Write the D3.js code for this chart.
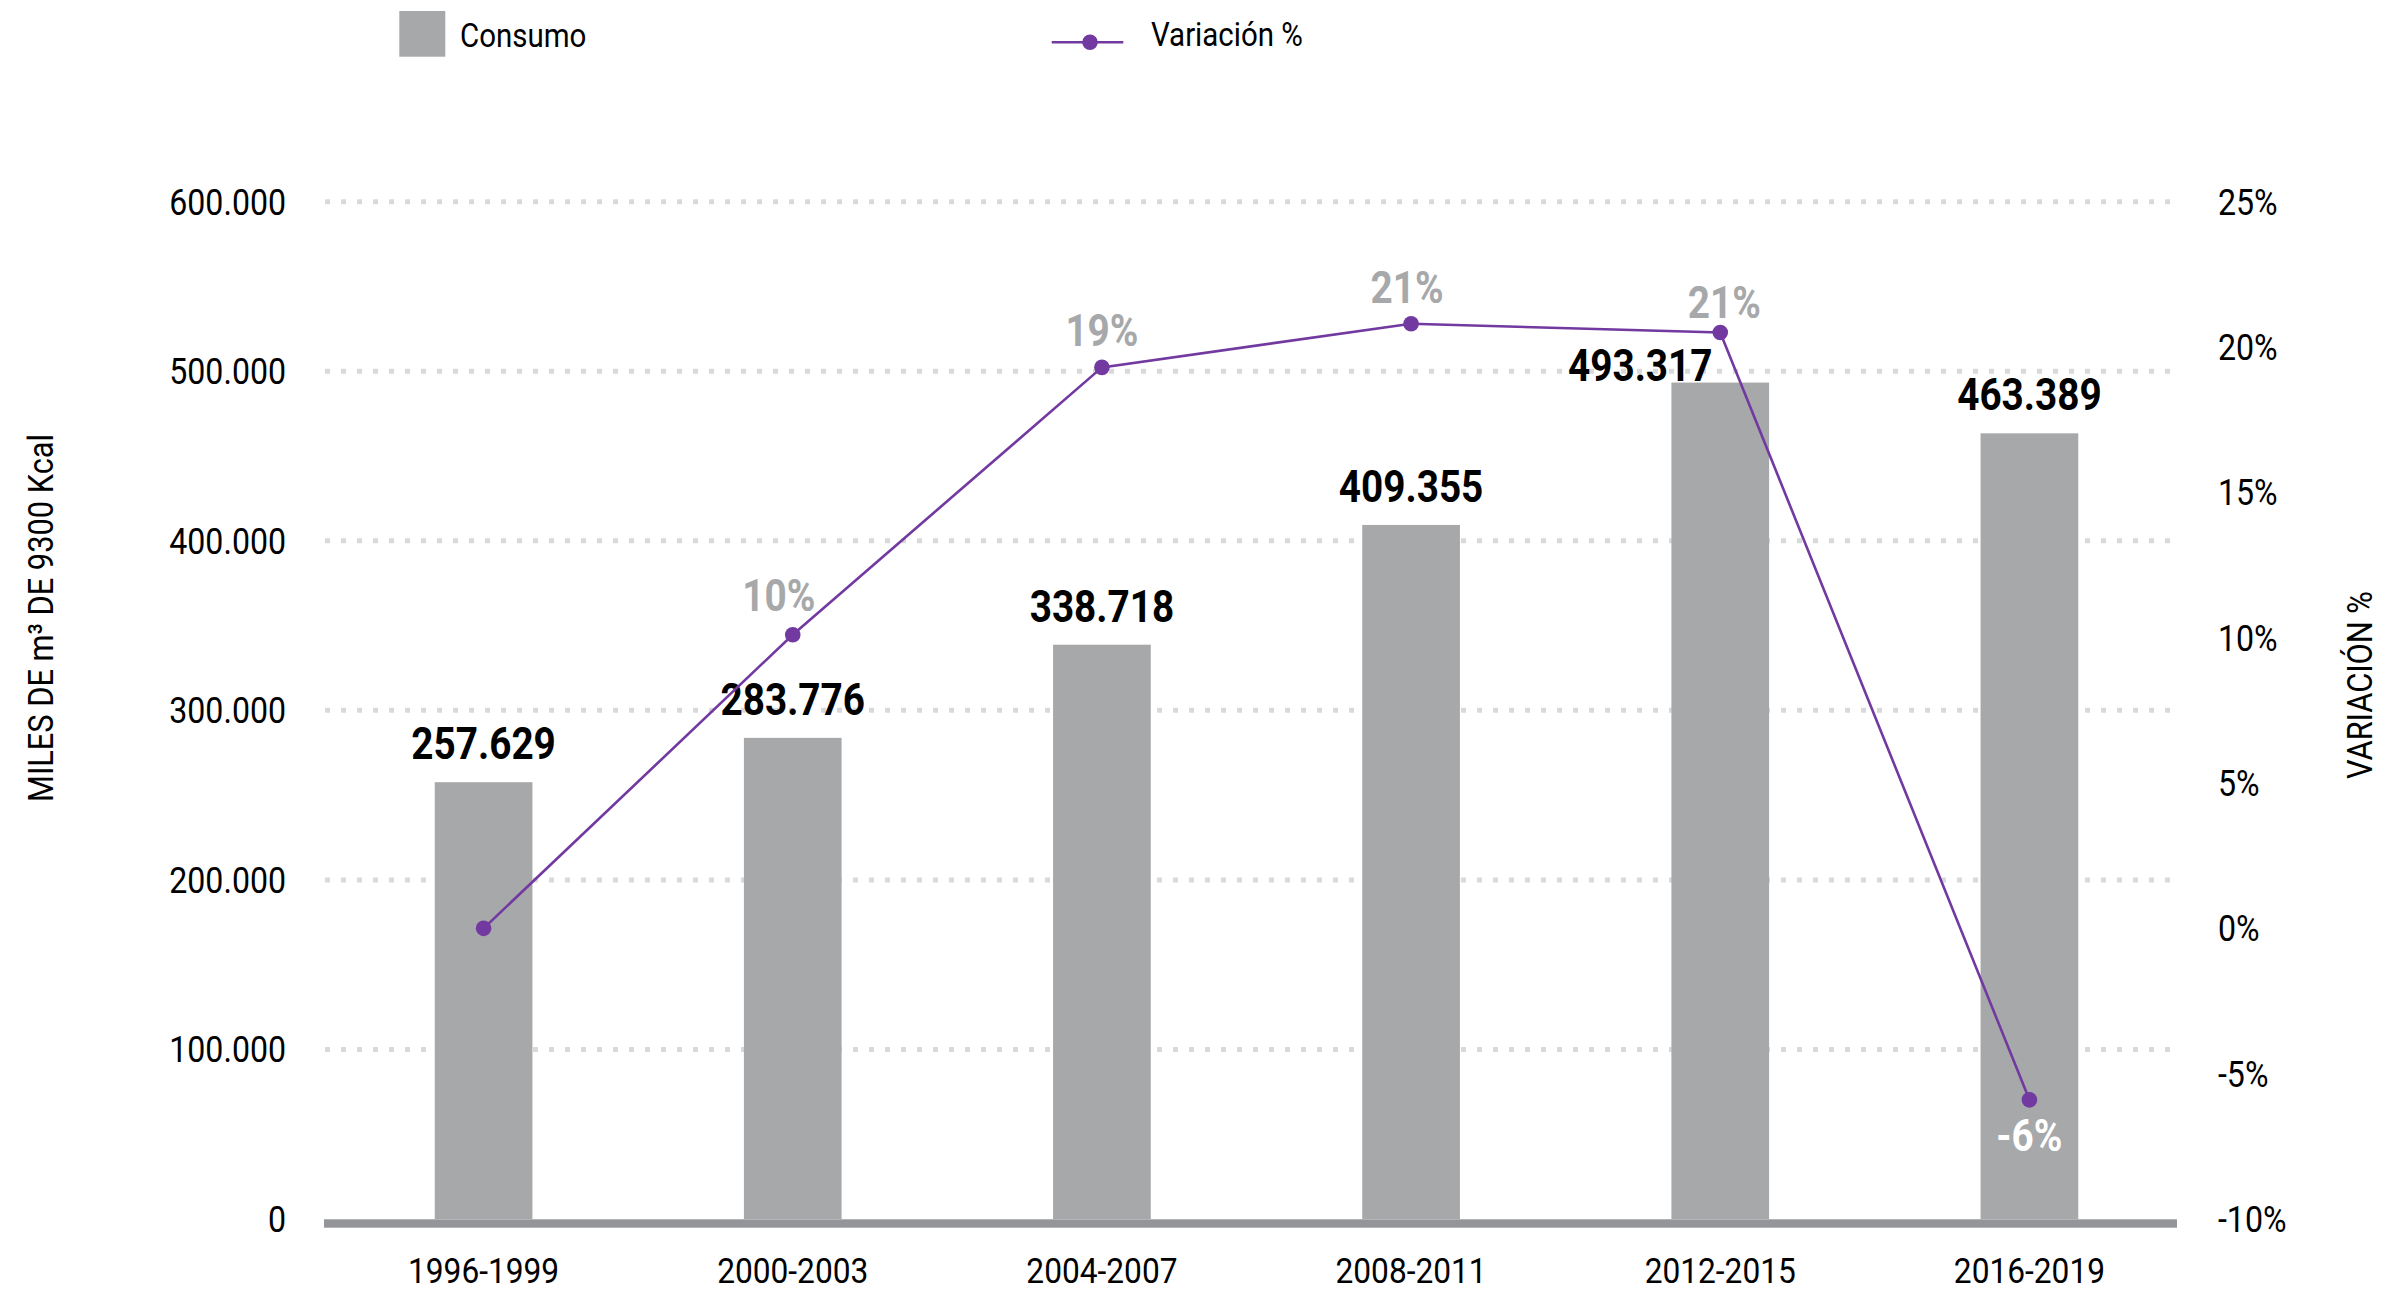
<!DOCTYPE html>
<html>
<head>
<meta charset="utf-8">
<script src="https://cdn.jsdelivr.net/npm/d3@7"></script>
<style>
  html, body { margin: 0; padding: 0; background: #ffffff; }
  svg { display: block; }
  text { font-family: Roboto, "Noto Sans", sans-serif; }
</style>
</head>
<body>
<svg id="chart" width="2408" height="1291"></svg>
<script>
// ---------- DATA ----------
const categories = ["1996-1999", "2000-2003", "2004-2007", "2008-2011", "2012-2015", "2016-2019"];
const consumo = [257629, 283776, 338718, 409355, 493317, 463389];
const variacion = [0, 10.1, 19.3, 20.8, 20.5, -5.9];
const leftTicks = [0, 100000, 200000, 300000, 400000, 500000, 600000];
const rightTicks = [-10, -5, 0, 5, 10, 15, 20, 25];
const legendLabels = ["Consumo", "Variación %"];
const leftTitle = "MILES DE m³ DE 9300 Kcal";
const rightTitle = "VARIACIÓN %";

// ---------- STYLE / LAYOUT ----------
const COND = 0.88;               // horizontal condense factor
const barColor = "#a7a8aa";
const axisColor = "#939598";
const gridColor = "#d9d9d9";
const lineColor = "#7239a0";
const plotTop = 201.7, plotBottom = 1219;
const axisX0 = 324, axisX1 = 2177;
// label nudges (layout only) : [dx, dy]
const barLabelNudge = [[0,0],[0,0],[0,0],[0,0],[-80,21],[0,0]];
const pctLabelNudge = [null, [-14,-24], [0,-21], [-4,-21], [4,-14], [0,51]];
const pctLabelColor = ["#a7a8aa","#a7a8aa","#a7a8aa","#a7a8aa","#a7a8aa","#ffffff"];

const svg = d3.select("#chart");

const loc = d3.formatLocale({decimal: ",", thousands: ".", grouping: [3], currency: ["", ""], minus: "-"});
const fmtNum = loc.format(",.0f");

const x = d3.scaleBand().domain(categories).range([329, 2184]).paddingInner(0.684).paddingOuter(0.342);
const yL = d3.scaleLinear().domain([0, 600000]).range([plotBottom, plotTop]);
const yR = d3.scaleLinear().domain([-10, 25]).range([plotBottom, plotTop]);
const cx = c => x(c) + x.bandwidth() / 2;

// helper: condensed text
function ctext(g, px, py, str, o) {
  return g.append("text")
    .attr("transform", `translate(${px},${py}) scale(${COND},1)`)
    .attr("text-anchor", o.anchor || "middle")
    .attr("font-size", o.size)
    .attr("font-weight", o.weight || 400)
    .attr("fill", o.fill || "#000")
    .text(str);
}

// gridlines
svg.append("g").selectAll("line")
  .data(leftTicks.filter(d => d > 0))
  .join("line")
  .attr("x1", 325).attr("x2", 2173)
  .attr("y1", d => yL(d)).attr("y2", d => yL(d))
  .attr("stroke", gridColor).attr("stroke-width", 5)
  .attr("stroke-dasharray", "5,11");

// left axis
const gL = svg.append("g").attr("transform", `translate(${axisX0},0)`)
  .call(d3.axisLeft(yL).tickValues(leftTicks).tickSize(0).tickFormat(d => fmtNum(d)));
gL.select(".domain").remove();
gL.selectAll(".tick text")
  .attr("x", -38 / COND).attr("dy", "0.34em")
  .attr("transform", `scale(${COND},1)`)
  .attr("font-size", 36.5).attr("font-family", "Roboto").attr("fill", "#000");

// right axis
const gR = svg.append("g").attr("transform", `translate(${axisX1},0)`)
  .call(d3.axisRight(yR).tickValues(rightTicks).tickSize(0).tickFormat(d => loc.format("d")(d) + "%"));
gR.select(".domain").remove();
gR.selectAll(".tick text")
  .attr("x", 41 / COND).attr("dy", "0.34em")
  .attr("transform", `scale(${COND},1)`)
  .attr("font-size", 36.5).attr("font-family", "Roboto").attr("fill", "#000");

// bars
svg.append("g").selectAll("rect")
  .data(consumo)
  .join("rect")
  .attr("x", (d, i) => x(categories[i]))
  .attr("width", x.bandwidth())
  .attr("y", d => yL(d))
  .attr("height", d => yL(0) - yL(d))
  .attr("fill", barColor);

// baseline
svg.append("rect")
  .attr("x", axisX0).attr("width", axisX1 - axisX0)
  .attr("y", 1219.3).attr("height", 8.4)
  .attr("fill", axisColor);

// category labels
const gX = svg.append("g");
categories.forEach(c => ctext(gX, cx(c), 1283, c, {size: 36}));

// bar value labels
const gB = svg.append("g");
consumo.forEach((v, i) => {
  const n = barLabelNudge[i];
  ctext(gB, cx(categories[i]) + n[0], yL(v) - 23 + n[1], fmtNum(v), {size: 44, weight: 700});
});

// line
const line = d3.line().x((d, i) => cx(categories[i])).y(d => yR(d));
svg.append("path").datum(variacion)
  .attr("d", line).attr("fill", "none")
  .attr("stroke", lineColor).attr("stroke-width", 2.6);
svg.append("g").selectAll("circle")
  .data(variacion).join("circle")
  .attr("cx", (d, i) => cx(categories[i])).attr("cy", d => yR(d))
  .attr("r", 7.8).attr("fill", lineColor);

// percent labels
const gP = svg.append("g");
variacion.forEach((v, i) => {
  const n = pctLabelNudge[i];
  if (!n) return;
  ctext(gP, cx(categories[i]) + n[0], yR(v) + n[1], loc.format("d")(Math.round(v)) + "%",
    {size: 44, weight: 700, fill: pctLabelColor[i]});
});

// axis titles
ctext(svg.append("g").attr("transform", "translate(53,618) rotate(-90)"), 0, 0, leftTitle, {size: 35});
ctext(svg.append("g").attr("transform", "translate(2371.5,685) rotate(-90)"), 0, 0, rightTitle, {size: 35});

// legend
const gLeg = svg.append("g");
gLeg.append("rect").attr("x", 399.3).attr("y", 11).attr("width", 46).attr("height", 45.7).attr("fill", barColor);
ctext(gLeg, 460, 47.3, legendLabels[0], {size: 33.5, anchor: "start"});
gLeg.append("line").attr("x1", 1051.7).attr("x2", 1123.3).attr("y1", 42.3).attr("y2", 42.3)
  .attr("stroke", lineColor).attr("stroke-width", 2.6);
gLeg.append("circle").attr("cx", 1090).attr("cy", 42.3).attr("r", 7.8).attr("fill", lineColor);
ctext(gLeg, 1151, 45.5, legendLabels[1], {size: 33.5, anchor: "start"});
</script>
</body>
</html>
